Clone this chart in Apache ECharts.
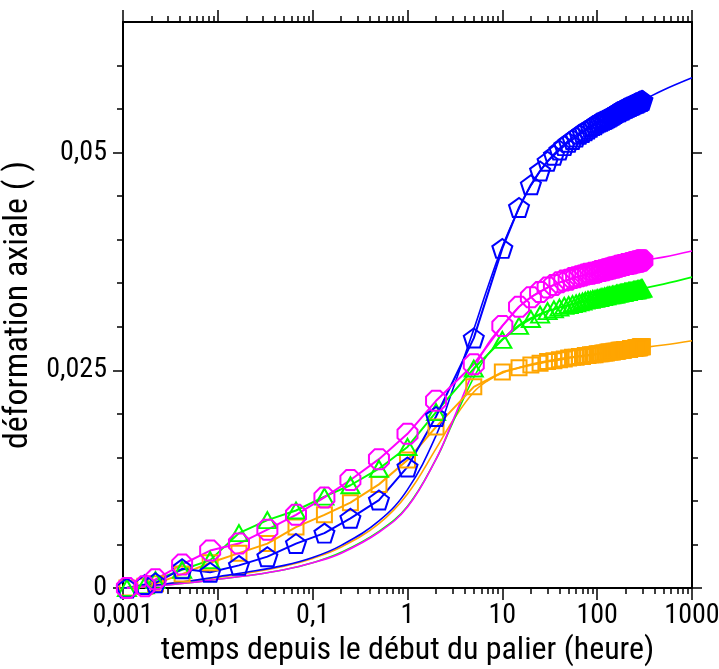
<!DOCTYPE html>
<html>
<head>
<meta charset="utf-8">
<script src="https://cdn.jsdelivr.net/npm/echarts@6/dist/echarts.min.js"></script>
<style>
html,body{margin:0;padding:0;background:#fff;}
#c{width:719px;height:669px;}
</style>
</head>
<body>
<div id="c"></div>
<script>
// measured times (hours)
var tMeas = [0.0011, 0.0017, 0.0022, 0.0042, 0.0083, 0.0167, 0.0333, 0.0667, 0.133, 0.25, 0.5, 1, 2,
  5, 10, 15, 20, 25, 30, 35, 40, 45, 50, 55, 60, 65, 70, 75, 80, 85, 90, 95, 100,
  105, 110, 115, 120, 125, 130, 135, 140, 145, 150, 155, 160, 165, 170, 175, 180, 185, 190, 195, 200,
  205, 210, 215, 220, 225, 230, 235, 240, 245, 250, 255, 260, 265, 270, 275, 280, 285, 290, 295, 300];

var blueMeas = [0.0000, 0.0004, 0.0006, 0.0022, 0.0018, 0.0026, 0.0036, 0.0051, 0.0063, 0.0080, 0.0101, 0.0139, 0.0197,
  0.0287, 0.0390, 0.0437, 0.0463, 0.0479, 0.0490, 0.0497, 0.0503, 0.0508, 0.0512, 0.0515, 0.0518, 0.0521, 0.0523, 0.0525, 0.0527, 0.0529, 0.0531, 0.0532, 0.0534,
  0.0535, 0.0536, 0.0537, 0.0538, 0.0539, 0.0540, 0.0541, 0.0542, 0.0543, 0.0544, 0.0545, 0.0546, 0.0547, 0.0547, 0.0548, 0.0549, 0.0549, 0.0550, 0.0551, 0.0551,
  0.0552, 0.0552, 0.0553, 0.0553, 0.0554, 0.0554, 0.0555, 0.0555, 0.0556, 0.0556, 0.0557, 0.0557, 0.0557, 0.0558, 0.0558, 0.0559, 0.0559, 0.0559, 0.0560, 0.0560];

var magentaMeas = [0.0000, 0.0002, 0.0010, 0.0027, 0.0043, 0.0051, 0.0067, 0.0084, 0.0104, 0.0124, 0.0148, 0.0177, 0.0215,
  0.0257, 0.0301, 0.0323, 0.0334, 0.0340, 0.0345, 0.0348, 0.0351, 0.0353, 0.0354, 0.0356, 0.0357, 0.0358, 0.0359, 0.0360, 0.0361, 0.0361, 0.0362, 0.0362, 0.0363,
  0.0364, 0.0364, 0.0365, 0.0365, 0.0366, 0.0366, 0.0367, 0.0367, 0.0368, 0.0368, 0.0368, 0.0369, 0.0369, 0.0370, 0.0370, 0.0370, 0.0371, 0.0371, 0.0371, 0.0372,
  0.0372, 0.0372, 0.0372, 0.0373, 0.0373, 0.0373, 0.0373, 0.0374, 0.0374, 0.0374, 0.0374, 0.0375, 0.0375, 0.0375, 0.0375, 0.0375, 0.0376, 0.0376, 0.0376, 0.0376];

var greenMeas = [0.0000, 0.0003, 0.0009, 0.0021, 0.0032, 0.0063, 0.0078, 0.0089, 0.0105, 0.0118, 0.0137, 0.0162, 0.0202,
  0.0252, 0.0285, 0.0301, 0.0309, 0.0314, 0.0318, 0.0320, 0.0322, 0.0324, 0.0325, 0.0326, 0.0327, 0.0328, 0.0329, 0.0330, 0.0331, 0.0331, 0.0332, 0.0332, 0.0333,
  0.0333, 0.0334, 0.0334, 0.0335, 0.0335, 0.0336, 0.0336, 0.0336, 0.0337, 0.0337, 0.0337, 0.0338, 0.0338, 0.0338, 0.0339, 0.0339, 0.0339, 0.0339, 0.0340, 0.0340,
  0.0340, 0.0340, 0.0341, 0.0341, 0.0341, 0.0341, 0.0341, 0.0342, 0.0342, 0.0342, 0.0342, 0.0342, 0.0343, 0.0343, 0.0343, 0.0343, 0.0343, 0.0344, 0.0344, 0.0344];

var orangeMeas = [0.0000, 0.0002, 0.0005, 0.0016, 0.0029, 0.0040, 0.0051, 0.0070, 0.0084, 0.0098, 0.0119, 0.0147, 0.0185,
  0.0231, 0.0248, 0.0253, 0.0256, 0.0258, 0.0260, 0.0261, 0.0262, 0.0263, 0.0264, 0.0265, 0.0265, 0.0266, 0.0266, 0.0267, 0.0267, 0.0268, 0.0268, 0.0268, 0.0269,
  0.0269, 0.0269, 0.0270, 0.0270, 0.0270, 0.0271, 0.0271, 0.0271, 0.0271, 0.0272, 0.0272, 0.0272, 0.0272, 0.0273, 0.0273, 0.0273, 0.0273, 0.0273, 0.0274, 0.0274,
  0.0274, 0.0274, 0.0274, 0.0274, 0.0275, 0.0275, 0.0275, 0.0275, 0.0275, 0.0275, 0.0276, 0.0276, 0.0276, 0.0276, 0.0276, 0.0276, 0.0277, 0.0277, 0.0277, 0.0277];

// fitted model curves
var tModel = [0.001, 0.002, 0.005, 0.01, 0.02, 0.05, 0.1, 0.2, 0.5, 1, 2, 3, 5, 7, 10, 15, 20, 30, 50, 100, 200, 300, 500, 1000];
var blueModel    = [0.0000, 0.0003, 0.0008, 0.0013, 0.0018, 0.0026, 0.0035, 0.0049, 0.0077, 0.0113, 0.0175, 0.0228, 0.0297, 0.0345, 0.0392, 0.0436, 0.0462, 0.0490, 0.0514, 0.0535, 0.0551, 0.0560, 0.0572, 0.0586];
var orangeModel  = [0.0000, 0.0003, 0.0008, 0.0012, 0.0017, 0.0025, 0.0034, 0.0047, 0.0074, 0.0108, 0.0160, 0.0192, 0.0225, 0.0238, 0.0247, 0.0253, 0.0257, 0.0261, 0.0265, 0.0269, 0.0274, 0.0276, 0.0279, 0.0284];
var greenModel   = [0.0000, 0.0002, 0.0006, 0.0010, 0.0014, 0.0021, 0.0029, 0.0041, 0.0065, 0.0094, 0.0148, 0.0190, 0.0242, 0.0268, 0.0286, 0.0302, 0.0310, 0.0318, 0.0325, 0.0333, 0.0340, 0.0344, 0.0349, 0.0357];
var magentaModel = [0.0000, 0.0002, 0.0006, 0.0010, 0.0014, 0.0021, 0.0029, 0.0040, 0.0064, 0.0093, 0.0148, 0.0192, 0.0250, 0.0280, 0.0301, 0.0323, 0.0334, 0.0345, 0.0354, 0.0363, 0.0371, 0.0376, 0.0380, 0.0387];

// axis ticks
var xMajorTicks = [0.001, 0.01, 0.1, 1, 10, 100, 1000];
var xMinorMult = [2, 3, 4, 5, 6, 7, 8, 9];
var yLabelTicks = [0, 0.025, 0.05];
var yMinor = [0.005, 0.01, 0.015, 0.02, 0.03, 0.035, 0.04, 0.045, 0.055, 0.06];

var xTitle = 'temps depuis le début du palier (heure)';
var yTitle = 'déformation axiale ( )';

var FONT = 'Roboto, "Liberation Sans", sans-serif';
var STRETCH = 'condensed';

var xMinor = [];
for (var i = 0; i < xMajorTicks.length - 1; i++) {
  for (var j = 0; j < xMinorMult.length; j++) {
    xMinor.push(Number((xMajorTicks[i] * xMinorMult[j]).toPrecision(6)));
  }
}

function zip(xs, ys) { return xs.map(function (x, i) { return [x, ys[i]]; }); }
function fmt(v) { return String(Number(Number(v).toPrecision(6))).replace('.', ','); }

var PENT = 'path://M0,-1 L0.951,-0.309 L0.588,0.809 L-0.588,0.809 L-0.951,-0.309 Z';
var OCT = 'path://M-0.414,-1 L0.414,-1 L1,-0.414 L1,0.414 L0.414,1 L-0.414,1 L-1,0.414 L-1,-0.414 Z';

var BLUE = '#0000ff', MAG = '#ff00ff', GREEN = '#00ff00', ORANGE = '#ffa500';

function measSeries(name, ys, color, symbol, size) {
  return {
    name: name, type: 'line', data: zip(tMeas, ys),
    symbol: symbol, symbolSize: size, showAllSymbol: true,
    lineStyle: { color: color, width: 2 },
    itemStyle: { color: 'rgba(255,255,255,0)', borderColor: color, borderWidth: 2 },
    emphasis: { disabled: true }, animation: false, z: 3
  };
}
function modelSeries(name, ys, color) {
  return {
    name: name, type: 'line', data: zip(tModel, ys), smooth: 0.4,
    showSymbol: false, symbol: 'none',
    lineStyle: { color: color, width: 1.6 },
    emphasis: { disabled: true }, animation: false, z: 2
  };
}

function logAxis(pos, ticks, len, showLine, showLabel) {
  return {
    type: 'log', logBase: 10, min: 0.001, max: 1000, position: pos,
    axisLine: { show: showLine, onZero: false, lineStyle: { color: '#000', width: 2 } },
    axisTick: { show: true, inside: false, length: len, customValues: ticks, lineStyle: { color: '#000', width: 1.5 } },
    axisLabel: { show: showLabel, customValues: xMajorTicks, formatter: fmt, fontFamily: FONT, fontStyle: STRETCH, fontSize: 28, color: '#000', margin: 14 },
    splitLine: { show: false }, minorTick: { show: false }
  };
}
function linAxis(pos, ticks, len, showLine, showLabel) {
  return {
    type: 'value', min: 0, max: 0.065, interval: 0.005, position: pos,
    axisLine: { show: showLine, onZero: false, lineStyle: { color: '#000', width: 2 } },
    axisTick: { show: true, inside: false, length: len, customValues: ticks, lineStyle: { color: '#000', width: 1.5 } },
    axisLabel: { show: showLabel, customValues: yLabelTicks, formatter: fmt, fontFamily: FONT, fontStyle: STRETCH, fontSize: 28, color: '#000', margin: 16 },
    splitLine: { show: false }
  };
}

var xAxes = [
  logAxis('bottom', xMajorTicks, 12, true, true),
  logAxis('bottom', xMinor, 6, false, false),
  logAxis('top', xMajorTicks, 12, true, false),
  logAxis('top', xMinor, 6, false, false)
];
xAxes[0].name = xTitle;
xAxes[0].nameLocation = 'middle';
xAxes[0].nameGap = 36;
xAxes[0].nameTextStyle = { fontFamily: FONT, fontStyle: STRETCH, fontSize: 32, color: '#000' };

var yAxes = [
  linAxis('left', yLabelTicks, 10, true, true),
  linAxis('left', yMinor, 6, false, false),
  linAxis('right', yLabelTicks, 10, true, false),
  linAxis('right', yMinor, 6, false, false)
];
yAxes[0].name = yTitle;
yAxes[0].nameLocation = 'middle';
yAxes[0].nameGap = 76;
yAxes[0].nameTextStyle = { fontFamily: FONT, fontStyle: STRETCH, fontSize: 34, color: '#000' };

var chart = echarts.init(document.getElementById('c'), null, { renderer: 'canvas' });
chart.setOption({
  animation: false,
  backgroundColor: '#fff',
  grid: { left: 123, right: 27, top: 22, bottom: 81, containLabel: false, outerBoundsMode: 'none' },
  xAxis: xAxes,
  yAxis: yAxes,
  series: [
    modelSeries('orange fit', orangeModel, ORANGE),
    modelSeries('green fit', greenModel, GREEN),
    modelSeries('magenta fit', magentaModel, MAG),
    modelSeries('blue fit', blueModel, BLUE),
    measSeries('orange', orangeMeas, ORANGE, 'rect', [15, 15]),
    measSeries('green', greenMeas, GREEN, 'triangle', [18, 16]),
    measSeries('blue', blueMeas, BLUE, PENT, [20, 19]),
    measSeries('magenta', magentaMeas, MAG, OCT, [20, 20])
  ]
});
</script>
</body>
</html>
